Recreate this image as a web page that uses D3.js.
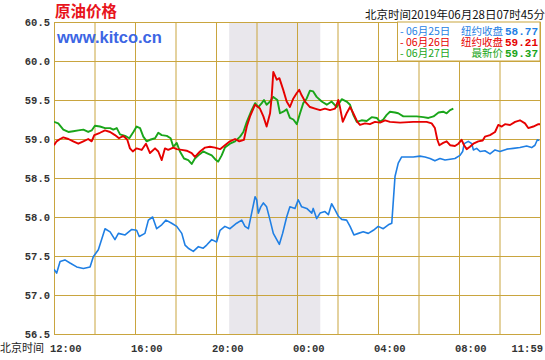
<!DOCTYPE html>
<html><head><meta charset="utf-8">
<script src="https://cdn.jsdelivr.net/npm/d3@7"></script>
<style>body{margin:0;background:#fff}svg{display:block}</style>
</head><body>
<script>
// hours after 12:00 Beijing time
const blueT=[0,0.13,0.30,0.54,0.79,1.12,1.45,1.78,1.94,2.19,2.52,2.77,3.01,3.18,3.51,3.84,4.08,4.21,4.49,4.66,4.87,5.07,5.32,5.53,5.81,6.06,6.31,6.47,6.63,6.88,7.13,7.37,7.54,7.79,8.03,8.20,8.44,8.69,9.02,9.27,9.43,9.60,9.76,9.93,10.01,10.09,10.21,10.34,10.50,10.67,10.83,11.00,11.13,11.29,11.49,11.65,11.90,12.06,12.23,12.48,12.73,12.80,12.97,13.14,13.38,13.55,13.71,13.88,14.04,14.21,14.45,14.62,14.81,15.03,15.27,15.52,15.77,16.01,16.26,16.51,16.68,16.76,16.84,17.00,17.17,17.42,17.74,18.07,18.32,18.57,18.81,19.06,19.31,19.56,19.80,20.05,20.18,20.26,20.46,20.63,20.71,20.87,21.04,21.28,21.53,21.78,22.02,22.36,22.68,23.01,23.34,23.59,23.75,23.87,23.97];
const blueV=[57.33,57.28,57.43,57.45,57.41,57.36,57.34,57.36,57.49,57.58,57.85,57.81,57.71,57.79,57.77,57.84,57.83,57.75,57.79,57.96,58.00,57.85,57.90,57.96,57.92,57.88,57.79,57.64,57.60,57.56,57.62,57.60,57.64,57.71,57.68,57.83,57.88,57.85,57.92,57.96,57.88,57.85,58.05,58.26,58.22,58.05,58.13,58.18,58.13,57.96,57.79,57.71,57.65,57.79,58.00,58.13,58.11,58.22,58.13,58.11,58.05,58.11,57.98,58.05,58.07,58.03,58.17,58.09,58.01,57.97,57.96,57.88,57.77,57.79,57.81,57.79,57.83,57.88,57.85,57.90,57.92,58.22,58.52,58.69,58.77,58.77,58.77,58.78,58.77,58.75,58.72,58.75,58.73,58.74,58.75,58.79,58.84,58.94,58.97,58.94,58.86,58.88,58.84,58.85,58.81,58.86,58.84,58.87,58.88,58.89,58.91,58.89,58.92,58.99,58.98];
const redT=[0,0.13,0.30,0.46,0.71,0.95,1.20,1.45,1.69,1.86,1.99,2.27,2.52,2.77,3.01,3.21,3.42,3.62,3.75,3.89,4.08,4.33,4.54,4.74,4.99,5.15,5.32,5.48,5.64,5.89,6.06,6.31,6.55,6.80,6.96,7.21,7.46,7.70,7.95,8.20,8.44,8.69,8.94,9.15,9.38,9.52,9.68,9.93,10.17,10.34,10.50,10.67,10.75,10.83,11.00,11.13,11.32,11.49,11.65,11.82,11.99,12.11,12.23,12.40,12.64,12.89,13.14,13.38,13.63,13.88,14.04,14.12,14.26,14.45,14.62,14.78,14.98,15.11,15.36,15.60,15.85,16.10,16.35,16.59,17.09,17.74,18.40,18.65,18.81,18.93,19.03,19.22,19.39,19.56,19.80,19.97,20.13,20.25,20.38,20.54,20.71,20.95,21.17,21.28,21.53,21.78,21.94,22.11,22.27,22.52,22.77,23.01,23.26,23.42,23.67,23.92,24];
const redV=[58.92,58.97,59.00,59.02,59.00,58.97,58.94,58.97,59.00,58.97,59.05,59.08,59.11,59.09,59.05,59.01,59.04,58.99,58.88,58.84,58.88,58.86,58.94,58.82,58.88,58.84,58.73,58.88,58.86,58.89,58.87,58.86,58.85,58.82,58.77,58.84,58.89,58.90,58.89,58.87,58.92,58.97,59.00,58.97,58.99,59.16,59.29,59.44,59.39,59.29,59.16,59.33,59.54,59.86,59.76,59.78,59.63,59.48,59.41,59.52,59.59,59.63,59.56,59.48,59.41,59.39,59.37,59.39,59.37,59.39,59.50,59.41,59.22,59.33,59.41,59.33,59.22,59.18,59.20,59.19,59.22,59.21,59.24,59.22,59.21,59.22,59.22,59.20,59.14,58.99,58.92,58.95,58.97,58.92,58.91,58.94,58.99,58.92,58.87,58.90,58.94,58.97,58.98,59.03,59.05,59.09,59.18,59.16,59.19,59.18,59.22,59.24,59.20,59.14,59.16,59.19,59.19];
const greenT=[0,0.21,0.46,0.71,0.95,1.20,1.45,1.69,1.86,2.02,2.27,2.52,2.77,2.93,3.10,3.26,3.51,3.72,3.92,4.08,4.25,4.41,4.58,4.74,4.99,5.15,5.32,5.57,5.76,5.89,6.06,6.22,6.42,6.63,6.80,6.96,7.13,7.37,7.54,7.79,8.00,8.11,8.28,8.44,8.69,8.94,9.19,9.35,9.52,9.76,9.93,10.09,10.26,10.37,10.50,10.67,10.83,11.03,11.16,11.32,11.49,11.65,11.82,11.99,12.15,12.31,12.48,12.64,12.80,12.97,13.22,13.47,13.71,13.96,14.21,14.45,14.62,14.78,14.95,15.19,15.44,15.69,15.94,16.10,16.26,16.43,16.59,16.84,17.00,17.25,17.91,18.24,18.49,18.74,18.99,19.22,19.39,19.56,19.72];
const greenV=[59.22,59.20,59.12,59.09,59.10,59.11,59.12,59.09,59.11,59.17,59.16,59.14,59.14,59.12,59.14,59.06,59.04,59.01,59.09,59.16,59.14,59.03,58.97,58.99,59.01,59.08,59.05,59.04,59.01,58.90,58.95,58.84,58.75,58.73,58.68,58.75,58.79,58.84,58.82,58.79,58.73,58.71,58.79,58.89,58.94,58.97,59.03,59.09,59.22,59.37,59.46,59.41,59.46,59.50,59.44,59.48,59.54,59.50,59.33,59.35,59.38,59.27,59.25,59.19,59.33,59.46,59.52,59.62,59.61,59.54,59.48,59.44,59.48,59.41,59.51,59.48,59.44,59.31,59.22,59.24,59.23,59.28,59.27,59.22,59.25,59.31,59.35,59.34,59.33,59.29,59.29,59.28,59.27,59.29,59.34,59.35,59.33,59.37,59.39];

const yTicks=[56.5,57.0,57.5,58.0,58.5,59.0,59.5,60.0,60.5];
const yTickLabels=["56.5","57.0","57.5","58.0","58.5","59.0","59.5","60.0","60.5"];
const gridHours=[0,2,4,6,8,10,12,14,16,18,20,22,24];
const xTickHours=[0,4,8,12,16,20,24];
const xTickLabels=["12:00","16:00","20:00","00:00","04:00","08:00","11:59"];
const shadeHours=[8.65,13.15];
const legendDates=["06月25日","06月26日","06月27日"];
const legendKinds=["纽约收盘","纽约收盘","最新价"];
const legendValues=["58.77","59.21","59.37"];
const seriesColors=["#1f7fe4","#e60000","#1aa51a"];

const W=545,H=360,L=54,R=540,T=22,B=334;
const grid="#c9a53f";
const mono="'Liberation Mono','DejaVu Sans Mono',monospace";
const cjk="'Noto Sans CJK SC','Liberation Mono',sans-serif";

const svg=d3.select("body").append("svg").attr("width",W).attr("height",H);
const x=d3.scaleLinear().domain([0,24]).range([L,R]);
const y=d3.scaleLinear().domain([56.5,60.5]).range([B,T]);

// shaded session
svg.append("rect").attr("x",x(shadeHours[0])).attr("y",T)
  .attr("width",x(shadeHours[1])-x(shadeHours[0])).attr("height",B-T).attr("fill","#e9e7ec");

// grid via axes
svg.append("g").attr("transform",`translate(0,${B})`)
  .call(d3.axisBottom(x).tickValues(gridHours).tickSize(-(B-T)).tickFormat(""))
  .call(g=>{g.select(".domain").attr("stroke",grid);g.selectAll("line").attr("stroke",grid);});
svg.append("g").attr("transform",`translate(${L},0)`)
  .call(d3.axisLeft(y).tickValues(yTicks).tickSize(-(R-L)).tickFormat(""))
  .call(g=>{g.select(".domain").attr("stroke",grid);g.selectAll("line").attr("stroke",grid);});

// y labels
svg.append("g").selectAll("text").data(yTicks).join("text")
  .attr("x",50).attr("y",d=>y(d)+4).attr("text-anchor","end")
  .attr("font-family",mono).attr("font-weight","bold").attr("font-size","10.5px").attr("fill","#333")
  .text((d,i)=>yTickLabels[i]);

// x labels
svg.append("g").selectAll("text").data(xTickHours).join("text")
  .attr("x",(d,i)=>i===xTickHours.length-1?543:x(d)-4).attr("y",352)
  .attr("text-anchor",(d,i)=>i===xTickHours.length-1?"end":"start")
  .attr("font-family",mono).attr("font-weight","bold").attr("font-size","10.5px").attr("fill","#333")
  .text((d,i)=>xTickLabels[i]);
svg.append("text").attr("x",0).attr("y",352).attr("font-family",cjk).attr("font-size","11px").attr("fill","#222").text("北京时间");

// lines
svg.append("clipPath").attr("id","clip").append("rect").attr("x",L).attr("y",T).attr("width",R-L).attr("height",B-T);
const line=d3.line().x(d=>x(d[0])).y(d=>y(d[1]));
const series=[[blueT,blueV],[greenT,greenV],[redT,redV]];
const cols=[seriesColors[0],seriesColors[2],seriesColors[1]];
series.forEach((s,i)=>{
  svg.append("path").datum(s[0].map((t,j)=>[t,s[1][j]]))
    .attr("clip-path","url(#clip)").attr("fill","none").attr("stroke",cols[i])
    .attr("stroke-width",i===0?1.6:1.9).attr("stroke-linejoin","round").attr("d",line);
});

// title & header
svg.append("text").attr("x",55).attr("y",17).attr("font-family",cjk).attr("font-weight","bold")
  .attr("font-size","15.5px").attr("fill","#e8141c").text("原油价格");
svg.append("text").attr("x",545).attr("y",19).attr("text-anchor","end").attr("font-family",cjk)
  .attr("font-size","11.5px").attr("fill","#111").text("北京时间2019年06月28日07时45分");
svg.append("text").attr("x",57).attr("y",43).attr("font-family","'Liberation Sans',Arial,sans-serif")
  .attr("font-weight","bold").attr("font-size","16.5px").attr("fill","#3c66e4").text("www.kitco.cn");

// legend
svg.append("rect").attr("x",397.5).attr("y",T).attr("width",R-397.5).attr("height",39)
  .attr("fill","#fff").attr("stroke",grid);
legendDates.forEach((d,i)=>{
  const yy=35+i*11;
  const c=seriesColors[i];
  svg.append("text").attr("x",400).attr("y",yy).attr("font-family",cjk).attr("font-size","10.5px")
    .attr("fill",c).text("- "+d);
  svg.append("text").attr("x",503).attr("y",yy).attr("text-anchor","end").attr("font-family",cjk)
    .attr("font-size","10.5px").attr("fill",c).text(legendKinds[i]);
  svg.append("text").attr("x",538).attr("y",yy).attr("text-anchor","end").attr("font-family",mono)
    .attr("font-weight","bold").attr("font-size","11px").attr("fill",c).text(legendValues[i]);
});
</script>
</body></html>
